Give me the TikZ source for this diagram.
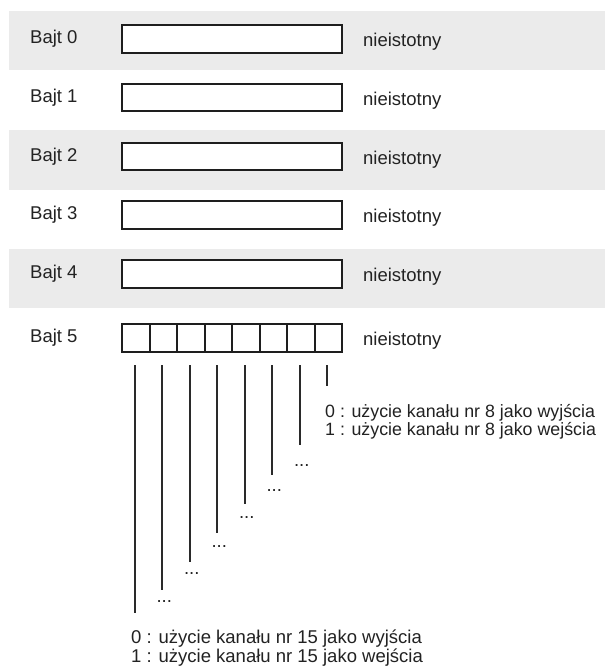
\documentclass[tikz,border=0pt]{standalone}
\usepackage{fontspec}
\setmainfont{Liberation Sans}
\definecolor{bandgray}{HTML}{EBEBEB}
\definecolor{linedark}{HTML}{1E1E1E}
\definecolor{leadgray}{HTML}{2A2A2A}
\definecolor{txt}{HTML}{222222}
\begin{document}
\begin{tikzpicture}[x=1pt,y=-1pt,
  band/.style={fill=bandgray,draw=none},
  bytebox/.style={draw=linedark,line width=2pt,fill=white,minimum width=220pt,minimum height=27.5pt,inner sep=0pt,anchor=north west},
  cellbox/.style={draw=linedark,line width=2pt,fill=white,minimum width=27.5pt,minimum height=27.5pt,inner sep=0pt,anchor=north west},
  lbl/.style={font=\fontsize{18.5}{19}\selectfont,text=txt,inner sep=0pt,anchor=base west},
  smlbl/.style={font=\fontsize{17.8}{19}\selectfont,text=txt,inner sep=0pt,anchor=base west},
  dotlbl/.style={font=\fontsize{18.5}{19}\selectfont,text=txt,inner sep=0pt,anchor=base},
  lead/.style={draw=leadgray,line width=2pt}]
\useasboundingbox (0,0) rectangle (605,667);
\fill[white] (0,0) rectangle (605,667);
% bands
\fill[band] (9,11) rectangle (605,70);
\fill[band] (9,130) rectangle (605,190);
\fill[band] (9,249) rectangle (605,308);
% byte rows 0..4
\foreach \i/\t in {0/24,1/82.7,2/141.7,3/200,4/259}{
  \node[bytebox] (b\i) at (121,\t) {};
  \node[lbl] (l\i) at (30,\t+19.5) {Bajt \i};
  \node[lbl] (n\i) at (363,\t+22.5) {nieistotny};
}
% byte 5 with bit cells
\node[lbl] (l5) at (30,323+19.5) {Bajt 5};
\foreach \k in {1,...,8}{
  \node[cellbox] (c\k) at ({121+27.5*(\k-1)},323) {};
}
\node[lbl] (n5) at (363,323+22.5) {nieistotny};
% leader lines
\foreach \k/\bot in {1/613,2/590,3/562,4/533,5/504,6/475,7/445,8/386}{
  \coordinate (t\k) at ({134.75+27.5*(\k-1)},365);
  \coordinate (e\k) at ({134.75+27.5*(\k-1)},\bot);
  \draw[lead] (t\k) -- (e\k);
}
% continuation dots
\foreach \k/\dy in {2/12,3/12,4/14,5/14,6/16,7/21}{
  \node[dotlbl] (d\k) at ([xshift=2pt,yshift=-\dy pt]e\k) {...};
}
% descriptions
\node[smlbl] (h0) at (325,417) {0 : użycie kanału nr 8 jako wyjścia};
\node[smlbl] (h1) at (325,435) {1 : użycie kanału nr 8 jako wejścia};
\node[lbl] (f0) at (131,643) {0 : użycie kanału nr 15 jako wyjścia};
\node[lbl] (f1) at (131,662) {1 : użycie kanału nr 15 jako wejścia};
\end{tikzpicture}
\end{document}
